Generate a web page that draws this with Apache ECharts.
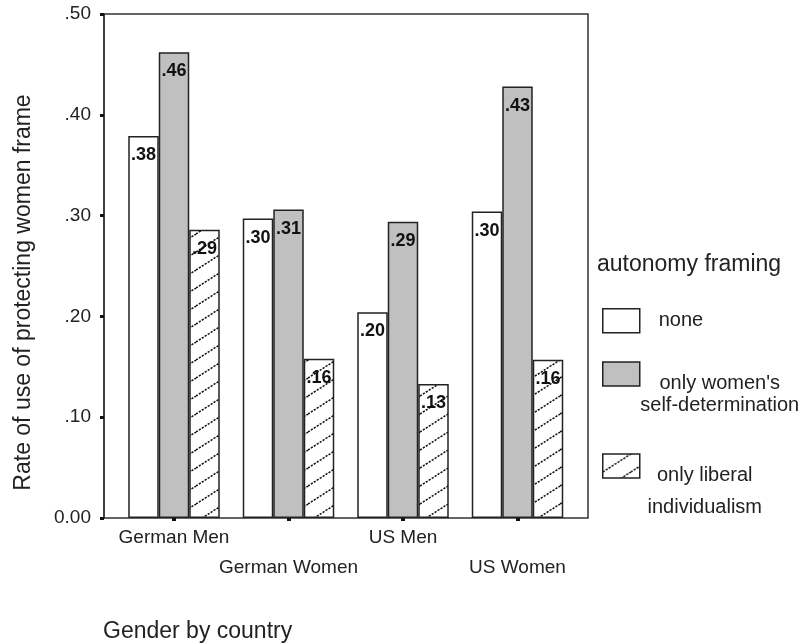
<!DOCTYPE html>
<html><head><meta charset="utf-8">
<script src="https://cdn.jsdelivr.net/npm/echarts@6/dist/echarts.min.js"></script>
<style>html,body{margin:0;padding:0;background:#fff}#c{width:804px;height:644px}</style>
</head><body><div id="c"></div>
<script>
// ---- data ----
const categories = ['German Men', 'German Women', 'US Men', 'US Women'];
const seriesNames = ['none', "only women's\nself-determination", 'only liberal\nindividualism'];
const noneValues = [0.379, 0.297, 0.204, 0.304];
const selfDetValues = [0.462, 0.306, 0.294, 0.428];
const liberalValues = [0.286, 0.158, 0.133, 0.157];
const yTickLabels = ['0.00', '.10', '.20', '.30', '.40', '.50'];
const legendTitle = 'autonomy framing';
const xTitle = 'Gender by country';
const yTitle = 'Rate of use of protecting women frame';

const FONT = '"Liberation Sans", Arial, Helvetica, sans-serif';
const INK = '#222';

function hatch() {
  const w = 28, h = 18, c = document.createElement('canvas');
  c.width = w; c.height = h;
  const g = c.getContext('2d');
  g.fillStyle = '#fff'; g.fillRect(0, 0, w, h);
  g.strokeStyle = '#111'; g.lineWidth = 1.5; g.setLineDash([2.2, 1.3]);
  const k = h / w;
  function seg(x0, y0, x1, y1) { g.beginPath(); g.moveTo(x0, y0); g.lineTo(x1, y1); g.stroke(); }
  seg(-3, h + 3 * k, w + 3, -3 * k);
  seg(-3, 3 * k, 3, -3 * k);
  seg(w - 3, h + 3 * k, w + 3, h - 3 * k);
  return c;
}
const hatchFill = { image: hatch(), repeat: 'repeat' };

const barLabel = {
  show: true, position: 'insideTop', distance: 10,
  fontSize: 18, fontWeight: 'bold', color: '#111', fontFamily: FONT,
  formatter: p => p.value.toFixed(2).replace(/^0/, '')
};
function mkSeries(name, data, color) {
  return {
    name, type: 'bar', xAxisIndex: 1, yAxisIndex: 1, data,
    barWidth: 30.5, barGap: '0%', silent: true,
    itemStyle: { color, borderColor: INK, borderWidth: 1.5 },
    label: barLabel
  };
}
const legendBase = {
  orient: 'vertical', left: 602, padding: 0, itemWidth: 37, itemHeight: 24,
  icon: 'rect', selectedMode: false,
  itemStyle: { borderColor: INK, borderWidth: 1.5 }
};
function richText(name) { return name.split('\n').map(s => '{c|' + s + '}').join('\n'); }

const chart = echarts.init(document.getElementById('c'));
chart.setOption({
  animation: false,
  backgroundColor: '#fff',
  textStyle: { fontFamily: FONT, color: INK },
  title: [
    { text: legendTitle, left: 597, top: 253, padding: 0,
      textStyle: { fontSize: 23, fontWeight: 'normal', color: INK, fontFamily: FONT } },
    { text: xTitle, left: 103, top: 620, padding: 0,
      textStyle: { fontSize: 23, fontWeight: 'normal', color: INK, fontFamily: FONT } }
  ],
  legend: [
    Object.assign({}, legendBase, { data: [seriesNames[0]], top: 308,
      textStyle: { fontSize: 20, color: INK, fontFamily: FONT, padding: [0, 0, 0, 14] } }),
    Object.assign({}, legendBase, { data: [seriesNames[1]], top: 331.5, formatter: richText,
      textStyle: { fontSize: 20, lineHeight: 22, color: INK, fontFamily: FONT, padding: [41, 0, 0, 0],
        rich: { c: { align: 'center', width: 150, fontSize: 20, lineHeight: 22, color: INK, fontFamily: FONT } } } }),
    Object.assign({}, legendBase, { data: [seriesNames[2]], top: 409, formatter: richText,
      textStyle: { fontSize: 20, lineHeight: 32, color: INK, fontFamily: FONT, padding: [50, 0, 0, 0],
        rich: { c: { align: 'center', width: 120, fontSize: 20, lineHeight: 32, color: INK, fontFamily: FONT } } } })
  ],
  grid: [
    { left: 104, top: 14, width: 484, height: 504, show: true, borderColor: '#333', borderWidth: 1.5,
      backgroundColor: 'transparent', containLabel: false, outerBoundsMode: 'none' },
    { left: 116.75, top: 14, width: 458, height: 504, containLabel: false, outerBoundsMode: 'none' }
  ],
  xAxis: [
    { gridIndex: 0, type: 'value', show: false, min: 0, max: 1 },
    { gridIndex: 1, type: 'category', data: categories,
      axisLine: { show: false },
      axisTick: { show: true, alignWithLabel: true, length: 3, lineStyle: { width: 4, color: '#111' } },
      axisLabel: { interval: 0, fontSize: 19, color: INK, fontFamily: FONT, lineHeight: 30, margin: 5,
        formatter: (v, i) => (i % 2 ? '\n' + v : v) },
      splitLine: { show: false } }
  ],
  yAxis: [
    { gridIndex: 0, type: 'value', min: 0, max: 0.5, interval: 0.1,
      axisLine: { show: true, lineStyle: { color: '#333', width: 1.5 } },
      axisTick: { show: true, length: 4, lineStyle: { width: 3, color: '#111' } },
      axisLabel: { fontSize: 19, color: INK, fontFamily: FONT, margin: 13,
        formatter: v => yTickLabels[Math.round(v * 10)] },
      splitLine: { show: false },
      name: yTitle, nameLocation: 'middle', nameGap: 69, nameRotate: 90,
      nameTextStyle: { fontSize: 23, color: INK, fontFamily: FONT, padding: [0, 53, 0, 0] } },
    { gridIndex: 1, type: 'value', min: 0, max: 0.5, interval: 0.1, show: false }
  ],
  series: [
    mkSeries(seriesNames[0], noneValues, '#fff'),
    mkSeries(seriesNames[1], selfDetValues, '#c0c0c0'),
    mkSeries(seriesNames[2], liberalValues, hatchFill)
  ]
});
</script></body></html>
